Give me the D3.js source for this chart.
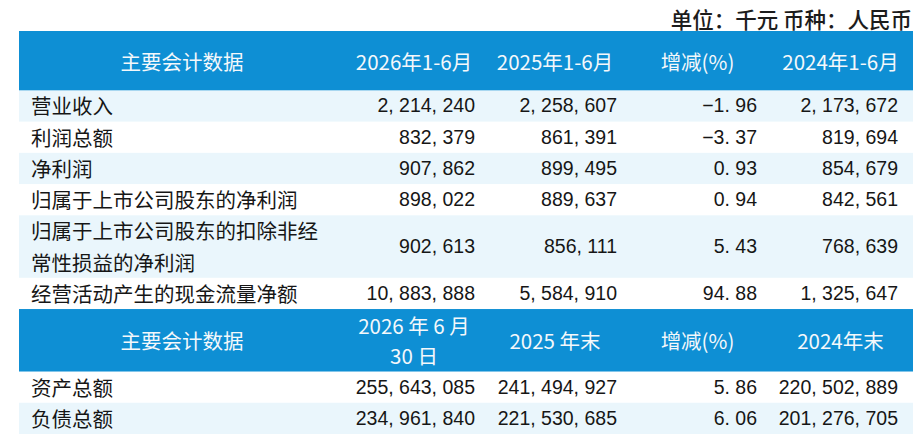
<!DOCTYPE html>
<html>
<head>
<meta charset="utf-8">
<script src="https://cdn.jsdelivr.net/npm/d3@7"></script>
<style>
  html, body { margin: 0; padding: 0; background: #ffffff; }
  svg { display: block; }
</style>
</head>
<body>
<svg id="chart" width="918" height="434"></svg>
<script>
// ---- data ----
const unitNote = "单位：千元 币种：人民币";
const headerIncome = ["主要会计数据", "2026年1-6月", "2025年1-6月", "增减(%)", "2024年1-6月"];
const incomeItems = [
  "营业收入",
  "利润总额",
  "净利润",
  "归属于上市公司股东的净利润",
  "归属于上市公司股东的扣除非经\n常性损益的净利润",
  "经营活动产生的现金流量净额"
];
const income2026H1 = [2214240, 832379, 907862, 898022, 902613, 10883888];
const income2025H1 = [2258607, 861391, 899495, 889637, 856111, 5584910];
const incomeChange = [-1.96, -3.37, 0.93, 0.94, 5.43, 94.88];
const income2024H1 = [2173672, 819694, 854679, 842561, 768639, 1325647];

const headerBalance = ["主要会计数据", "2026 年 6 月\n30 日", "2025 年末", "增减(%)", "2024年末"];
const balanceItems = ["资产总额", "负债总额"];
const balance2026Jun = [255643085, 234961840];
const balance2025End = [241494927, 221530685];
const balanceChange = [5.86, 6.06];
const balance2024End = [220502889, 201276705];

// ---- layout ----
const colEdges = [19, 345, 485, 627, 770, 913];
const headerBlue = "#0e8fd4";
const stripe = "#eaf6fc";
const cjk = "'Noto Sans CJK SC', 'Noto Sans', sans-serif";
const numFont = "'Liberation Sans', Arial, sans-serif";

const rows = [];
rows.push({type: "header", cells: headerIncome, units: 1.9});
incomeItems.forEach((lab, i) => rows.push({
  type: "data", label: lab,
  vals: [income2026H1[i], income2025H1[i], incomeChange[i], income2024H1[i]],
  units: lab.includes("\n") ? 2 : 1
}));
rows.push({type: "header", cells: headerBalance, units: 2});
balanceItems.forEach((lab, i) => rows.push({
  type: "data", label: lab,
  vals: [balance2026Jun[i], balance2025End[i], balanceChange[i], balance2024End[i]],
  units: 1
}));
let acc = 0;
rows.forEach(r => { r.u0 = acc; acc += r.units; r.u1 = acc; });
const y = d3.scaleLinear().domain([0, acc]).range([31, 434]);

let k = 0;
rows.forEach(r => { if (r.type === "header") { k = 0; } else { r.shade = (k % 2 === 0); k++; } });
const balStart = rows.findIndex((r, i) => i > 0 && r.type === "header");
rows.slice(balStart + 1).forEach((r, i) => r.shade = (i % 2 === 1));

const fmtInt = v => d3.format(",")(v).replace(/,/g, ", ");
const fmtPct = v => d3.format(".2f")(v).replace(".", ". ");

const svg = d3.select("#chart");

svg.append("text")
  .attr("x", 912).attr("y", 18.5)
  .attr("text-anchor", "end")
  .attr("dominant-baseline", "central")
  .style("font-family", cjk).style("font-size", "21.5px").style("font-weight", 500)
  .attr("fill", "#1c1c1c")
  .text(unitNote);

const g = svg.append("g");
const rowG = g.selectAll("g.row").data(rows).join("g").attr("class", "row");

rowG.append("rect")
  .attr("x", colEdges[0])
  .attr("y", d => y(d.u0))
  .attr("width", colEdges[colEdges.length - 1] - colEdges[0])
  .attr("height", d => y(d.u1) - y(d.u0) + 0.5)
  .attr("fill", d => d.type === "header" ? headerBlue : (d.shade ? stripe : "#ffffff"));

rowG.filter(d => d.type === "header").each(function(d) {
  const sel = d3.select(this);
  const cy = (y(d.u0) + y(d.u1)) / 2;
  d.cells.forEach((c, ci) => {
    const cx = (colEdges[ci] + colEdges[ci + 1]) / 2 + (ci === 0 ? 0 : -1);
    const lines = c.split("\n");
    const lh = 30;
    lines.forEach((ln, li) => {
      sel.append("text")
        .attr("x", cx)
        .attr("y", cy + (li - (lines.length - 1) / 2) * lh)
        .attr("text-anchor", "middle")
        .attr("dominant-baseline", "central")
        .style("font-family", cjk).style("font-size", "20.5px")
        .attr("fill", "#f4f8fb")
        .text(ln);
    });
  });
});

rowG.filter(d => d.type === "data").each(function(d) {
  const sel = d3.select(this);
  const cy = (y(d.u0) + y(d.u1)) / 2 - 0.5;
  const lines = d.label.split("\n");
  const lh = 31.5;
  lines.forEach((ln, li) => {
    sel.append("text")
      .attr("x", 31)
      .attr("y", cy + (li - (lines.length - 1) / 2) * lh)
      .attr("dominant-baseline", "central")
      .style("font-family", cjk).style("font-size", "20.5px")
      .attr("fill", "#161616")
      .text(ln);
  });
  const pads = [10, 10, 13, 15];
  d.vals.forEach((v, vi) => {
    sel.append("text")
      .attr("x", colEdges[vi + 2] - pads[vi])
      .attr("y", cy)
      .attr("text-anchor", "end")
      .attr("dominant-baseline", "central")
      .style("font-family", numFont).style("font-size", "19.5px")
      .attr("fill", "#161616")
      .text(vi === 2 ? fmtPct(v) : fmtInt(v));
  });
});
</script>
</body>
</html>
